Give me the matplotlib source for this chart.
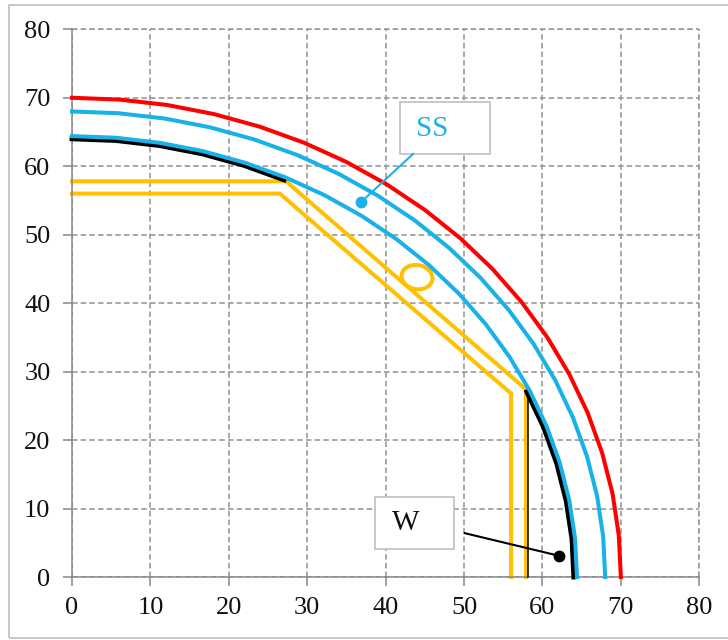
import matplotlib
matplotlib.use("Agg")
import matplotlib.pyplot as plt
from matplotlib.patches import Rectangle, Ellipse

# ---- data ----
red_x = [0, 6.10, 12.16, 18.12, 23.94, 29.58, 35.0, 40.15, 45.0, 49.50, 53.62, 57.34, 60.62, 63.44, 65.78, 67.61, 68.94, 69.73, 70]
red_y = [70, 69.73, 68.94, 67.61, 65.78, 63.44, 60.62, 57.34, 53.62, 49.50, 45.0, 40.15, 35.0, 29.58, 23.94, 18.12, 12.16, 6.10, 0]

blue_out_x = [0, 5.93, 11.81, 17.60, 23.26, 28.74, 34.0, 39.00, 43.71, 48.08, 52.09, 55.70, 58.89, 61.63, 63.90, 65.68, 66.97, 67.74, 68]
blue_out_y = [68, 67.74, 66.97, 65.68, 63.90, 61.63, 58.89, 55.70, 52.09, 48.08, 43.71, 39.00, 34.0, 28.74, 23.26, 17.60, 11.81, 5.93, 0]

blue_in_x = [0, 5.61, 11.18, 16.67, 22.03, 27.22, 32.2, 36.94, 41.40, 45.54, 49.33, 52.75, 55.77, 58.37, 60.52, 62.21, 63.42, 64.16, 64.4]
blue_in_y = [64.4, 64.16, 63.42, 62.21, 60.52, 58.37, 55.77, 52.75, 49.33, 45.54, 41.40, 36.94, 32.2, 27.22, 22.03, 16.67, 11.18, 5.61, 0]

black_top_x = [0, 5.58, 11.11, 16.56, 21.89, 27.05]
black_top_y = [64, 63.76, 63.03, 61.82, 60.14, 58.0]
black_bot_x = [58.0, 60.14, 61.82, 63.03, 63.76, 64]
black_bot_y = [27.05, 21.89, 16.56, 11.11, 5.58, 0]
black_vert_x = [58.1, 58.1]
black_vert_y = [0, 27.1]

yellow_up_x = [0, 27.3, 57.9, 57.9]
yellow_up_y = [57.8, 57.8, 27.4, 0]
yellow_lo_x = [0, 26.5, 56.0, 56.0]
yellow_lo_y = [56.0, 56.0, 26.8, 0]

ticks = [0, 10, 20, 30, 40, 50, 60, 70, 80]

RED = "#FF0000"
BLUE = "#1AB0E8"
YEL = "#FFC000"
GRID = "#9A9A9A"
SPINE = "#868686"
FONT = "Liberation Serif"
GRID_LS = (0, (3.3, 1.9))

plt.rcParams["font.family"] = [FONT, "DejaVu Serif"]

fig = plt.figure(figsize=(7.28, 6.4), dpi=100)
ax = fig.add_axes([72 / 728, 63 / 640, 627.3 / 728, 547.7 / 640])

ax.set_xlim(0, 80)
ax.set_ylim(0, 80)
ax.set_xticks(ticks)
ax.set_yticks(ticks)
ax.grid(True, color=GRID, linestyle=GRID_LS, linewidth=1.2)
ax.set_axisbelow(True)
for s in ["top", "right"]:
    ax.spines[s].set_visible(False)
for s in ["left", "bottom"]:
    ax.spines[s].set_color(SPINE)
    ax.spines[s].set_linewidth(1.1)
ax.tick_params(axis="both", direction="out", length=6.5, width=1.1, color=SPINE,
               labelsize=19, labelcolor="#111111")
ax.tick_params(axis="x", pad=8)
ax.tick_params(axis="y", pad=9)
# gridline at the top/right edges
ax.axhline(80, color=GRID, linestyle=GRID_LS, linewidth=1.2, clip_on=False, zorder=0.5)
ax.axvline(80, color=GRID, linestyle=GRID_LS, linewidth=1.2, clip_on=False, zorder=0.5)

lw = 2.9
ax.plot(yellow_up_x, yellow_up_y, color=YEL, lw=lw, clip_on=False, zorder=2)
ax.plot(yellow_lo_x, yellow_lo_y, color=YEL, lw=lw, clip_on=False, zorder=2)
ax.add_patch(Ellipse((44.0, 43.8), 4.0, 3.5, angle=-20, fill=False, edgecolor=YEL, lw=lw, zorder=2))

ax.plot(black_top_x, black_top_y, color="black", lw=3.5, clip_on=False, zorder=3)
ax.plot(black_bot_x, black_bot_y, color="black", lw=3.5, clip_on=False, zorder=3)
ax.plot(black_vert_x, black_vert_y, color="black", lw=1.1, clip_on=False, zorder=3.5)

ax.plot(blue_in_x, blue_in_y, color=BLUE, lw=lw, clip_on=False, zorder=4)
ax.plot(blue_out_x, blue_out_y, color=BLUE, lw=lw, clip_on=False, zorder=4)
ax.plot(red_x, red_y, color=RED, lw=lw, clip_on=False, zorder=4)

# SS callout
ax.add_patch(Rectangle((41.8, 61.8), 11.5, 7.6, facecolor="white", edgecolor="#BFBFBF", lw=1.2, zorder=5))
ax.text(43.9, 65.4, "SS", color=BLUE, fontsize=21, ha="left", va="center", zorder=6)
ax.plot([43.5, 36.9], [61.8, 54.8], color=BLUE, lw=1.5, zorder=5)
ax.plot([36.9], [54.8], "o", color=BLUE, ms=7.5, zorder=5)

# W callout
ax.add_patch(Rectangle((38.6, 4.1), 10.1, 7.6, facecolor="white", edgecolor="#BFBFBF", lw=1.2, zorder=5))
ax.text(42.6, 7.9, "W", color="#111111", fontsize=21, ha="center", va="center", zorder=6)
ax.plot([50.1, 62.1], [6.4, 3.1], color="black", lw=1.5, zorder=5)
ax.plot([62.1], [3.1], "o", color="black", ms=7.5, zorder=5)

# chart frame
fig.add_artist(Rectangle((9 / 728, 2 / 640), 2.0, 633 / 640, transform=fig.transFigure,
                         fill=False, edgecolor="#BFBFBF", lw=1.2))

fig.savefig("out.png", dpi=100)
